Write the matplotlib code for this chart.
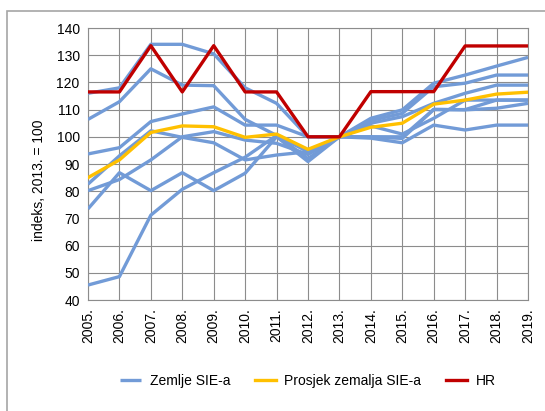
import matplotlib
matplotlib.use("Agg")
import matplotlib.pyplot as plt
from matplotlib.patches import Rectangle

plt.rcParams['font.family'] = ['Liberation Sans', 'DejaVu Sans']

years = list(range(2005, 2020))
year_labels = ["{}.".format(y) for y in years]

# zemlje SIE-a (index, 2013. = 100)
sie_a = [116, 118, 134, 134, 130.5, 118, 112.3, 100, 100, 106.8, 109.9, 119.7, 122.7, 126, 129.2]
sie_b = [106.4, 112.9, 125, 119, 118.8, 106.4, 100.5, 94.5, 100, 106, 108.6, 118.4, 119.7, 122.7, 122.7]
sie_c = [93.7, 96, 105.6, 108.4, 111, 104.3, 104.3, 100, 100, 105, 107.4, 112.3, 116, 119, 119]
sie_d = [82.6, 93, 102.2, 99.8, 97.8, 91.5, 93.3, 94.5, 100, 100, 100, 110.1, 109.9, 110.5, 112.3]
sie_e = [80.2, 84.3, 91.5, 100, 101.9, 98.8, 97.6, 93.5, 100, 99.5, 97.8, 104.3, 102.5, 104.3, 104.3]
sie_f = [73.5, 86.8, 80.2, 86.8, 80.2, 86.6, 100, 90.9, 100, 104, 101, 106.8, 113.5, 113.5, 113.5]
sie_g = [45.5, 48.6, 71.2, 80.7, 86.8, 92.5, 100.5, 92, 100, 100, 99.4, 110, 110, 113.5, 113.5]
sie_countries = [sie_a, sie_b, sie_c, sie_d, sie_e, sie_f, sie_g]

prosjek = [85, 91.5, 101.6, 104, 103.7, 99.8, 101, 95.4, 100, 103.5, 105, 112, 113.5, 115.7, 116.4]
hr = [116.5, 116.5, 133.5, 116.5, 133.5, 116.5, 116.5, 100, 100, 116.6, 116.6, 116.6, 133.4, 133.4, 133.4]

blue = '#729BD7'
yellow = '#FFC000'
red = '#C00000'
grid_col = '#8C8C8C'

fig = plt.figure(figsize=(5.45, 4.11), dpi=100)
fig.patches.append(Rectangle((7/545, -0.05), 1.2, 1 - 11/411 + 0.05,
                             transform=fig.transFigure, fill=False,
                             edgecolor='#A6A6A6', linewidth=1.2))

ax = fig.add_axes([88/545, 1 - 300/411, 440/545, 272/411])

for i, s in enumerate(sie_countries):
    ax.plot(years, s, color=blue, lw=2.4, solid_capstyle='butt',
            label='Zemlje SIE-a' if i == 0 else None, zorder=3)
ax.plot(years, prosjek, color=yellow, lw=2.4, label='Prosjek zemalja SIE-a', zorder=4)
ax.plot(years, hr, color=red, lw=2.4, label='HR', zorder=5)

ax.set_xlim(2005, 2019)
ax.set_ylim(40, 140)
ax.set_yticks(range(40, 141, 10))
ax.set_xticks(years)
ax.set_xticklabels(year_labels, rotation=90)
ax.tick_params(length=0, labelsize=10, colors='black')
ax.tick_params(axis='y', pad=6)
ax.tick_params(axis='x', pad=6)
ax.grid(True, color=grid_col, lw=0.8)
ax.set_axisbelow(True)
for sp in ax.spines.values():
    sp.set_color(grid_col)
    sp.set_linewidth(0.8)

ax.set_ylabel('indeks, 2013. = 100', fontsize=10)
ax.yaxis.set_label_coords(-0.096, 0.44)

fig.legend(loc='center', bbox_to_anchor=(0.565, 1 - 381/411), ncol=3,
           frameon=False, fontsize=10, handlelength=1.5, handletextpad=0.6,
           columnspacing=1.8)

fig.savefig('out.png', dpi=100)
